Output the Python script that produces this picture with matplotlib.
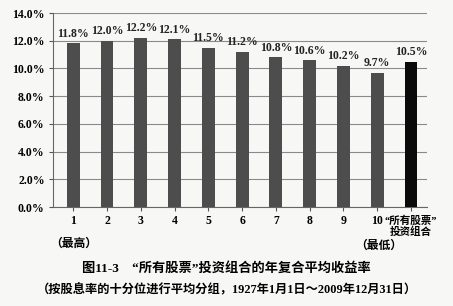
import matplotlib
matplotlib.use("Agg")
import matplotlib.pyplot as plt
from matplotlib.ticker import FuncFormatter

plt.rcParams['font.family'] = ['Liberation Serif', 'Noto Sans CJK SC', 'DejaVu Sans']

categories = ["1", "2", "3", "4", "5", "6", "7", "8", "9", "10", "“所有股票”\n投资组合"]
values = [11.8, 12.0, 12.2, 12.1, 11.5, 11.2, 10.8, 10.6, 10.2, 9.7, 10.5]
labels = ["11.8%", "12.0%", "12.2%", "12.1%", "11.5%", "11.2%", "10.8%", "10.6%", "10.2%", "9.7%", "10.5%"]
colors = ["#4d4d4d"] * 10 + ["#0a0a0a"]
yticks = [0, 2, 4, 6, 8, 10, 12, 14]
title = "图11-3　“所有股票”投资组合的年复合平均收益率"
subtitle = "（按股息率的十分位进行平均分组，1927年1月1日～2009年12月31日）"

fig = plt.figure(figsize=(4.53, 3.06), dpi=100)
fig.patch.set_facecolor("#f7f7f5")
ax = fig.add_axes([0.117, 0.3235, 0.826, 0.634])
ax.set_facecolor("#f7f7f5")

x = list(range(len(categories)))
ax.bar(x, values, width=0.38, color=colors, zorder=3)
for xi, v, lab in zip(x, values, labels):
    ax.text(xi, v + 0.25, lab, ha="center", va="bottom", fontsize=8.5, fontweight="bold", color="#222222")

ax.set_ylim(0, 14)
ax.set_xlim(-0.6, 10.48)
ax.set_yticks(yticks)
ax.yaxis.set_major_formatter(FuncFormatter(lambda v, p: f"{v:.1f}%"))
ax.yaxis.grid(True, color="#8a8a8a", linewidth=0.8, zorder=0)
ax.set_xticks(x)
ax.set_xticklabels(categories, fontsize=8.5, fontweight="bold", linespacing=1.0)
for lab in ax.get_yticklabels():
    lab.set_fontsize(8.5)
    lab.set_fontweight("bold")
last = ax.get_xticklabels()[-1]
last.set_fontsize(7.6)
last.set_x(10.05)
ax.tick_params(axis="both", length=3, color="#555555", pad=3)
for s in ["top", "right"]:
    ax.spines[s].set_visible(False)
ax.spines["left"].set_color("#666666")
ax.spines["bottom"].set_color("#666666")

ax.text(0, -2.6, "（最高）", ha="center", va="center", fontsize=8.5, fontweight="bold", family=['Noto Sans CJK SC'])
ax.text(9.05, -2.75, "（最低）", ha="center", va="center", fontsize=8.5, fontweight="bold", family=['Noto Sans CJK SC'])

fig.text(0.5, 1 - 268 / 306, title, ha="center", va="center", fontsize=9.5, fontweight="bold")
fig.text(0.5, 1 - 290 / 306, subtitle, ha="center", va="center", fontsize=8.8, fontweight="bold")

fig.savefig("out.png", dpi=100, facecolor=fig.get_facecolor())
